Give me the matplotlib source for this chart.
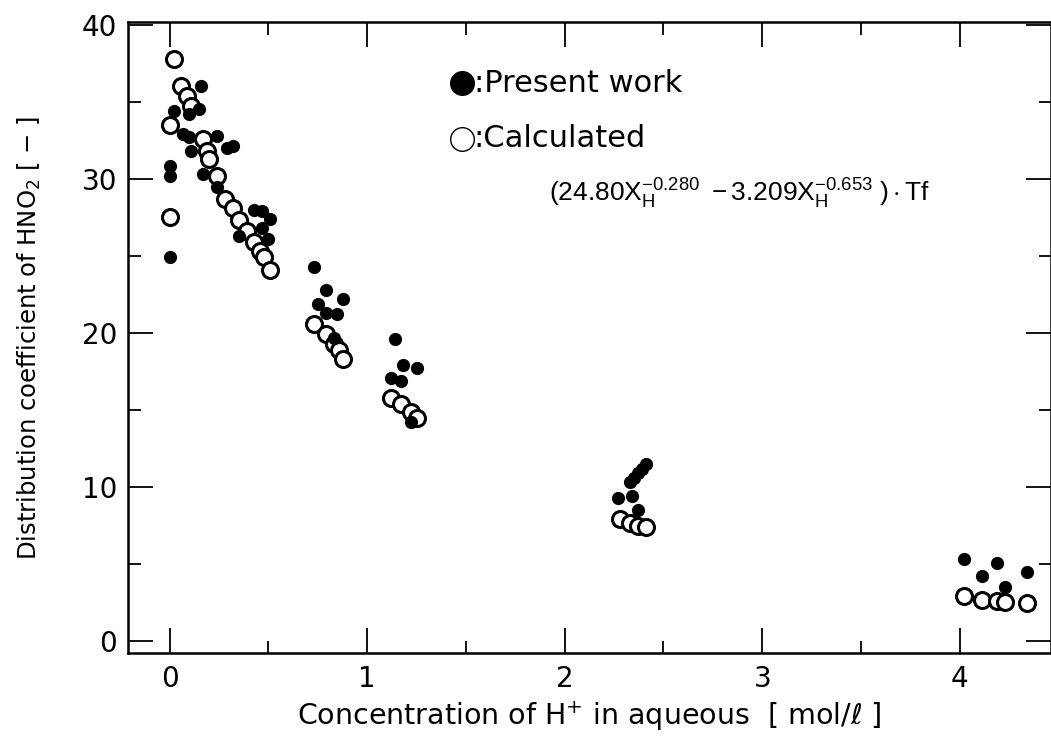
import matplotlib
matplotlib.use("Agg")
import matplotlib.pyplot as plt
from matplotlib.ticker import MultipleLocator

plt.rcParams['font.family'] = ['DejaVu Sans']
plt.rcParams['mathtext.fontset'] = 'dejavusans'
plt.rcParams['mathtext.rm'] = 'Liberation Sans'
plt.rcParams['mathtext.it'] = 'Liberation Sans'
plt.rcParams['mathtext.bf'] = 'Liberation Sans'

# Present work (filled)
present_x = [0.16, 0.025, 0.10, 0.15, 0.066, 0.10, 0.24, 0.11, 0.29, 0.32,
             0.0, 0.0, 0.17, 0.24, 0.43, 0.47, 0.51, 0.47, 0.35, 0.50, 0.005,
             0.73, 0.79, 0.88, 0.75, 0.79, 0.85, 0.83,
             1.14, 1.18, 1.25, 1.12, 1.17, 1.22,
             2.27, 2.34, 2.33, 2.35, 2.37, 2.39, 2.41, 2.37,
             4.02, 4.19, 4.34, 4.11, 4.23]
present_y = [36.0, 34.4, 34.2, 34.5, 32.9, 32.7, 32.8, 31.8, 32.0, 32.1,
             30.8, 30.2, 30.3, 29.5, 28.0, 27.9, 27.4, 26.8, 26.3, 26.1, 24.9,
             24.3, 22.8, 22.2, 21.9, 21.3, 21.2, 19.7,
             19.6, 17.9, 17.7, 17.1, 16.9, 14.2,
             9.3, 9.4, 10.3, 10.6, 10.9, 11.2, 11.5, 8.5,
             5.3, 5.1, 4.5, 4.2, 3.5]

# Calculated (open)
calc_x = [0.025, 0.06, 0.09, 0.11, 0.0, 0.17, 0.19, 0.20, 0.24, 0.0,
          0.28, 0.32, 0.35, 0.39, 0.43, 0.46, 0.48, 0.51,
          0.73, 0.79, 0.83, 0.86, 0.88,
          1.12, 1.17, 1.22, 1.25,
          2.28, 2.33, 2.37, 2.41,
          4.02, 4.11, 4.19, 4.23, 4.34]
calc_y = [37.8, 36.0, 35.4, 34.7, 33.5, 32.6, 31.8, 31.3, 30.2, 27.5,
          28.7, 28.1, 27.3, 26.6, 25.9, 25.3, 24.9, 24.1,
          20.6, 19.9, 19.3, 18.9, 18.3,
          15.8, 15.4, 14.9, 14.5,
          7.95, 7.7, 7.5, 7.4,
          2.9, 2.7, 2.6, 2.55, 2.45]

x_ticks = [0, 1, 2, 3, 4]
y_ticks = [0, 10, 20, 30, 40]

fig = plt.figure(figsize=(10.51, 7.46), dpi=100)
ax = fig.add_axes([0.1218, 0.124, 0.878, 0.847])

ax.plot(calc_x, calc_y, 'o', ms=11.5, mfc='white', mec='black', mew=2.2, zorder=3)
ax.plot(present_x, present_y, 'o', ms=9.5, mfc='black', mec='black', mew=0, zorder=4)

ax.set_xlim(-0.21, 4.46)
ax.set_ylim(-0.8, 40.2)
ax.set_xticks(x_ticks)
ax.set_yticks(y_ticks)
ax.xaxis.set_minor_locator(MultipleLocator(0.5))
ax.yaxis.set_minor_locator(MultipleLocator(5))
ax.tick_params(which='both', direction='in', top=True, right=True, width=1.3)
ax.tick_params(which='major', length=18, labelsize=20, pad=8)
ax.tick_params(which='minor', length=9)
for s in ax.spines.values():
    s.set_linewidth(1.8)

ax.set_xlabel('Concentration of H$^{+}$ in aqueous  [ mol/\u2113 ]', fontsize=20.5, labelpad=5)
ax.set_ylabel('Distribution coefficient of HNO$_2$ [ \u2212 ]', fontsize=17.5, labelpad=28)

# legend-like annotations
ax.plot([1.48], [36.2], 'o', ms=17, mfc='black', mec='black', clip_on=False)
ax.text(1.54, 36.2, ':Present work', fontsize=22, va='center', ha='left')
ax.plot([1.48], [32.6], 'o', ms=17, mfc='white', mec='black', mew=1.0, clip_on=False)
ax.text(1.54, 32.6, ':Calculated', fontsize=22, va='center', ha='left')
ax.text(1.92, 29.0, r'$(24.80\mathrm{X}_{\mathrm{H}}^{-0.280}\ -3.209\mathrm{X}_{\mathrm{H}}^{-0.653}\ )\cdot$Tf',
        fontsize=19, va='center', ha='left', math_fontfamily='custom',
        family='Liberation Sans')

fig.savefig('out.png', dpi=100)
